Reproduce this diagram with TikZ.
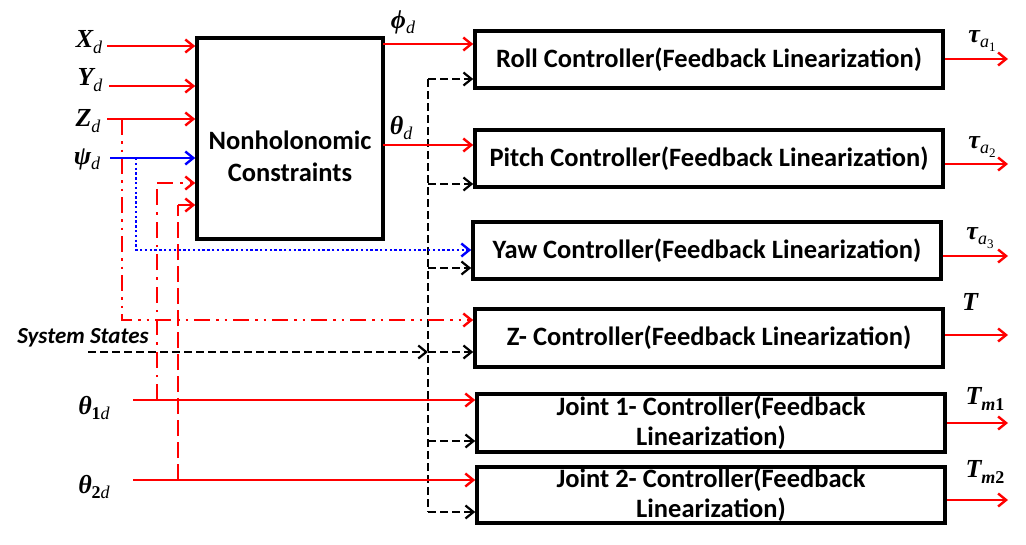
\documentclass[tikz,border=0pt]{standalone}
\usepackage{fontspec}
\setmainfont{Carlito}
\newfontfamily\lblfont{Liberation Serif}
\usetikzlibrary{arrows.meta}
\newcommand\sbs[1]{\raisebox{-0.45ex}{\fontsize{18}{20}\selectfont #1}}
\newcommand\ssbs[1]{\raisebox{-0.45ex}{\fontsize{13}{15}\selectfont\upshape #1}}
\tikzset{
  x=1pt, y=-1pt,
  blk/.style={draw, line width=3.6pt, fill=white, inner sep=0pt, align=center,
    font=\bfseries\fontsize{26.5}{30}\selectfont},
  txt/.style={inner sep=0pt, align=center, font=\bfseries\fontsize{26.5}{32}\selectfont},
  lbl/.style={inner sep=0pt, font=\lblfont\bfseries\itshape\fontsize{26}{30}\selectfont},
  tip/.style={-{Straight Barb[length=8pt,width=13pt]}},
  sig/.style={tip, draw=red, line width=2.4pt},
  psi/.style={tip, draw=blue, line width=2.4pt},
  psidot/.style={tip, draw=blue, line width=2.4pt, dash pattern=on 2.4pt off 2.4pt},
  ddot/.style={tip, draw=red, line width=2.4pt, dash pattern=on 16pt off 6pt on 2.5pt off 6pt on 2.5pt off 6pt},
  dashdot/.style={draw=red, line width=2.4pt, dash pattern=on 16pt off 7pt on 2.5pt off 7pt},
  longdash/.style={draw=red, line width=2.4pt, dash pattern=on 16pt off 6pt},
  bus/.style={draw=black, line width=2.2pt, dash pattern=on 8pt off 4pt},
  busarr/.style={tip, draw=black, line width=2.2pt, dash pattern=on 8pt off 4pt},
}
\begin{document}
\begin{tikzpicture}
\useasboundingbox (0,0) rectangle (1026,544);
\fill[white] (0,0) rectangle (1026,544);

% boxes
\node[blk, minimum width=186pt, minimum height=201pt] (nh) at (290,138.5) {};
\node[txt] (nhtext) at (290,156) {Nonholonomic\\Constraints};
\node[blk, minimum width=468pt, minimum height=57pt] (roll) at (709,59.5) {Roll Controller(Feedback Linearization)};
\node[blk, minimum width=468pt, minimum height=57pt] (pitch) at (709,158.5) {Pitch Controller(Feedback Linearization)};
\node[blk, minimum width=468pt, minimum height=57pt] (yaw) at (707,250.5) {Yaw Controller(Feedback Linearization)};
\node[blk, minimum width=468pt, minimum height=58pt] (zc) at (709,338) {Z- Controller(Feedback Linearization)};
\node[blk, minimum width=468pt, minimum height=58pt] (j1) at (711,423) {Joint 1- Controller(Feedback\\Linearization)};
\node[blk, minimum width=468pt, minimum height=56pt] (j2) at (711,495) {Joint 2- Controller(Feedback\\Linearization)};

% input labels
\node[lbl] (lxd) at (89,42) {X\sbs{\mdseries d}};
\node[lbl] (lyd) at (90,80) {Y\sbs{\mdseries d}};
\node[lbl] (lzd) at (88,121) {Z\sbs{\mdseries d}};
\node[lbl] (lpsi) at (87,159) {ψ\sbs{\mdseries d}};
\node[lbl] (lt1) at (94,408) {θ\sbs{\upshape 1\mdseries\itshape d}};
\node[lbl] (lt2) at (94,487) {θ\sbs{\upshape 2\mdseries\itshape d}};
\node[inner sep=0pt, font=\bfseries\itshape\fontsize{23}{26}\selectfont] (lss) at (83,338) {System States};
\node[lbl] (lphi) at (403,22) {ϕ\sbs{\mdseries d}};
\node[lbl] (ltheta) at (401,128) {θ\sbs{\mdseries d}};

% output labels
\node[lbl] (lo1) at (982,41) {τ\sbs{\mdseries a\ssbs{1}}};
\node[lbl] (lo2) at (982,147) {τ\sbs{\mdseries a\ssbs{2}}};
\node[lbl] (lo3) at (980,238) {τ\sbs{\mdseries a\ssbs{3}}};
\node[lbl] (lo4) at (970,302) {T};
\node[lbl] (lo5) at (985,399) {T\sbs{m\upshape 1}};
\node[lbl] (lo6) at (985,472) {T\sbs{m\upshape 2}};

% coordinates
\coordinate (xd) at (107,46);
\coordinate (yd) at (109,86);
\coordinate (zd) at (107,119);
\coordinate (psd) at (110,158);
\coordinate (t1) at (133,400);
\coordinate (t2) at (133,480);
\coordinate (ss) at (88,352);
\coordinate (zb) at (122,119);
\coordinate (zturn) at (122,320);
\coordinate (pb) at (136,158);
\coordinate (pturn) at (136,250);
\coordinate (t1b) at (157,400);
\coordinate (t1turn) at (157,183);
\coordinate (t2b) at (178,480);
\coordinate (t2turn) at (178,205);
\coordinate (phi) at (383,44);
\coordinate (theta) at (383,145);
\coordinate (b1) at (428,79);
\coordinate (b2) at (428,184);
\coordinate (b3) at (428,268);
\coordinate (b4) at (428,352);
\coordinate (b5) at (428,441);
\coordinate (b6) at (428,512);
\coordinate (o1) at (1008,59);
\coordinate (o2) at (1008,164);
\coordinate (o3) at (1008,256);
\coordinate (o4) at (1008,335);
\coordinate (o5) at (1008,423);
\coordinate (o6) at (1008,500);

% bus
\draw[bus] (b1) -- (b6);
\draw[busarr] (b1) -- (b1 -| roll.west);
\draw[busarr] (b2) -- (b2 -| pitch.west);
\draw[busarr] (b3) -- (b3 -| yaw.west);
\draw[busarr] (b4) -- (b4 -| zc.west);
\draw[busarr] (b5) -- (b5 -| j1.west);
\draw[busarr] (b6) -- (b6 -| j2.west);
\draw[busarr] (ss) -- (b4);

% branches
\draw[ddot] (zb) -- (zturn) -- (zturn -| zc.west);
\draw[psidot] (pb) -- (pturn) -- (pturn -| yaw.west);
\draw[dashdot] (t1b) -- (t1turn);
\draw[dashdot,tip] (t1turn) -- (t1turn -| nh.west);
\draw[longdash] (t2b) -- (t2turn);
\draw[longdash,tip] (t2turn) -- (t2turn -| nh.west);

% main inputs
\draw[sig] (xd) -- (xd -| nh.west);
\draw[sig] (yd) -- (yd -| nh.west);
\draw[sig] (zd) -- (zd -| nh.west);
\draw[psi] (psd) -- (psd -| nh.west);
\draw[sig] (t1) -- (t1 -| j1.west);
\draw[sig] (t2) -- (t2 -| j2.west);
\draw[sig] (phi) -- (phi -| roll.west);
\draw[sig] (theta) -- (theta -| pitch.west);

% outputs
\draw[sig] (o1 -| roll.east) -- (o1);
\draw[sig] (o2 -| pitch.east) -- (o2);
\draw[sig] (o3 -| yaw.east) -- (o3);
\draw[sig] (o4 -| zc.east) -- (o4);
\draw[sig] (o5 -| j1.east) -- (o5);
\draw[sig] (o6 -| j2.east) -- (o6);
\end{tikzpicture}
\end{document}
